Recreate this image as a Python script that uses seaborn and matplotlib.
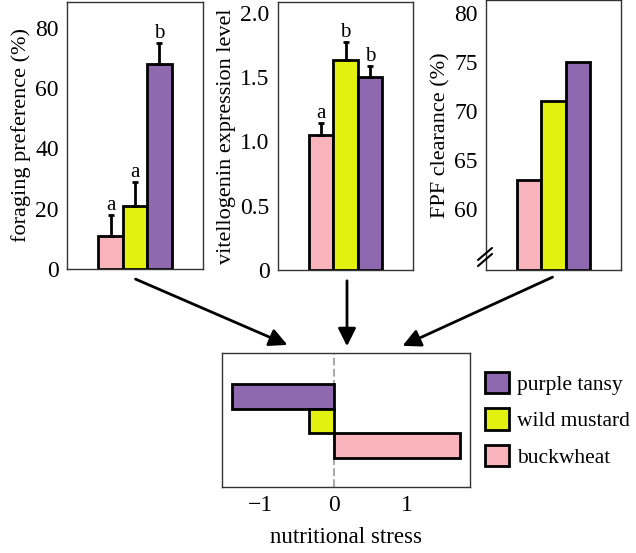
import numpy as np
import pandas as pd
import matplotlib.pyplot as plt
import seaborn as sns
from matplotlib.patches import FancyArrowPatch, Patch
from matplotlib.lines import Line2D

sns.set_style("white")
plt.rcParams['font.family'] = ['Liberation Serif', 'DejaVu Serif']
plt.rcParams['font.size'] = 16
plt.rcParams['text.color'] = 'black'
plt.rcParams['axes.labelcolor'] = 'black'
plt.rcParams['xtick.color'] = 'black'
plt.rcParams['ytick.color'] = 'black'

# data
plants = ['buckwheat', 'wild mustard', 'purple tansy']
colors = {'buckwheat': '#F9B3BB', 'wild mustard': '#E3F10F', 'purple tansy': '#8F69B0'}

forage = [11, 21, 68]
forage_err = [7, 8, 7]
forage_letters = ['a', 'a', 'b']

vitello = [1.05, 1.63, 1.50]
vitello_err = [0.09, 0.14, 0.09]
vitello_letters = ['a', 'b', 'b']

fpf = [63, 71, 75]

stress_plants = ['purple tansy', 'wild mustard', 'buckwheat']
stress = [-1.38, -0.34, 1.73]

W, H = 636, 553
fig = plt.figure(figsize=(W / 100, H / 100), dpi=100)


def box(x0, y0, x1, y1):
    return [x0 / W, 1 - y1 / H, (x1 - x0) / W, (y1 - y0) / H]


def style_axes(ax):
    for s in ax.spines.values():
        s.set_visible(True)
        s.set_color('#333333')
        s.set_linewidth(1.0)
    ax.tick_params(axis='both', direction='out', length=4, width=1.5,
                   color='black', labelcolor='black', labelsize=17, pad=2)


def top_panel(rect, vals, errs, letters, ylabel, ylim, yticks, yticklabels):
    ax = fig.add_axes(box(*rect))
    df = pd.DataFrame({'plant': plants, 'val': vals})
    sns.barplot(data=df, x='plant', y='val', hue='plant', palette=colors,
                order=plants, width=1.0, edgecolor='black', linewidth=2,
                saturation=1, legend=False, ax=ax)
    if errs is not None:
        for i, (v, e, l) in enumerate(zip(vals, errs, letters)):
            ax.errorbar(i, v, yerr=[[0], [e]], color='black', lw=2,
                        capsize=2, capthick=2)
            ax.text(i, v + e, l, ha='center', va='bottom', fontsize=15)
    ax.set_xlim(-1.78, 3.78)
    ax.set_ylim(*ylim)
    ax.set_yticks(yticks)
    ax.set_yticklabels(yticklabels)
    ax.set_xticks([])
    ax.set_xlabel('')
    ax.set_ylabel(ylabel, fontsize=16, labelpad=3)
    style_axes(ax)
    return ax


ax1 = top_panel((67, 2, 203, 269), forage, forage_err, forage_letters,
                'foraging preference (%)', (0, 88.6), [0, 20, 40, 60, 80],
                ['0', '20', '40', '60', '80'])
ax2 = top_panel((278, 2, 413, 270), vitello, vitello_err, vitello_letters,
                'vitellogenin expression level', (0, 2.085),
                [0, 0.5, 1.0, 1.5, 2.0], ['0', '0.5', '1.0', '1.5', '2.0'])
ax3 = top_panel((486, 0, 621, 270), fpf, None, None,
                'FPF clearance (%)', (53.8, 81.3), [60, 65, 70, 75, 80],
                ['60', '65', '70', '75', '80'])
for b in ax3.patches:
    b.set_y(53.8)
    b.set_height(b.get_height() - 53.8)
# axis break marks
for dy in (0, 6):
    fig.add_artist(Line2D([478 / W, 492 / W], [1 - (266 - dy) / H, 1 - (254 - dy) / H],
                          color='black', lw=1.5))

# bottom panel
axb = fig.add_axes(box(222, 353, 470, 487))
dfb = pd.DataFrame({'plant': stress_plants, 'stress': stress})
sns.barplot(data=dfb, y='plant', x='stress', hue='plant', palette=colors,
            order=stress_plants, orient='h', width=1.0, edgecolor='black',
            linewidth=2, saturation=1, legend=False, ax=axb)
axb.axvline(0, color='#aaaaaa', ls='--', lw=1.5, zorder=0)
axb.set_xlim(-1.52, 1.86)
axb.set_ylim(3.70, -1.77)
axb.set_yticks([])
axb.set_xticks([-1, 0, 1])
axb.set_xticklabels(['\u22121', '0', '1'])
axb.set_ylabel('')
axb.set_xlabel('nutritional stress', fontsize=16.5, labelpad=8)
style_axes(axb)

handles = [Patch(facecolor=colors[p], edgecolor='black', linewidth=2, label=p)
           for p in stress_plants]
fig.legend(handles=handles, loc='upper left', bbox_to_anchor=(485 / W, 1 - 372 / H),
           frameon=False, fontsize=15.5, handlelength=1.1, handleheight=1.15,
           handletextpad=0.4, labelspacing=0.62, borderaxespad=0, borderpad=0)

# arrows
for (xa, ya), (xb, yb) in [((133, 278), (290, 346)),
                           ((347, 278), (347, 349)),
                           ((555, 276), (400, 347))]:
    fig.add_artist(FancyArrowPatch((xa / W, 1 - ya / H), (xb / W, 1 - yb / H),
                                   transform=fig.transFigure,
                                   arrowstyle='-|>,head_length=0.6,head_width=0.3',
                                   mutation_scale=18, color='black', lw=2))

fig.savefig('out.png', dpi=100)
